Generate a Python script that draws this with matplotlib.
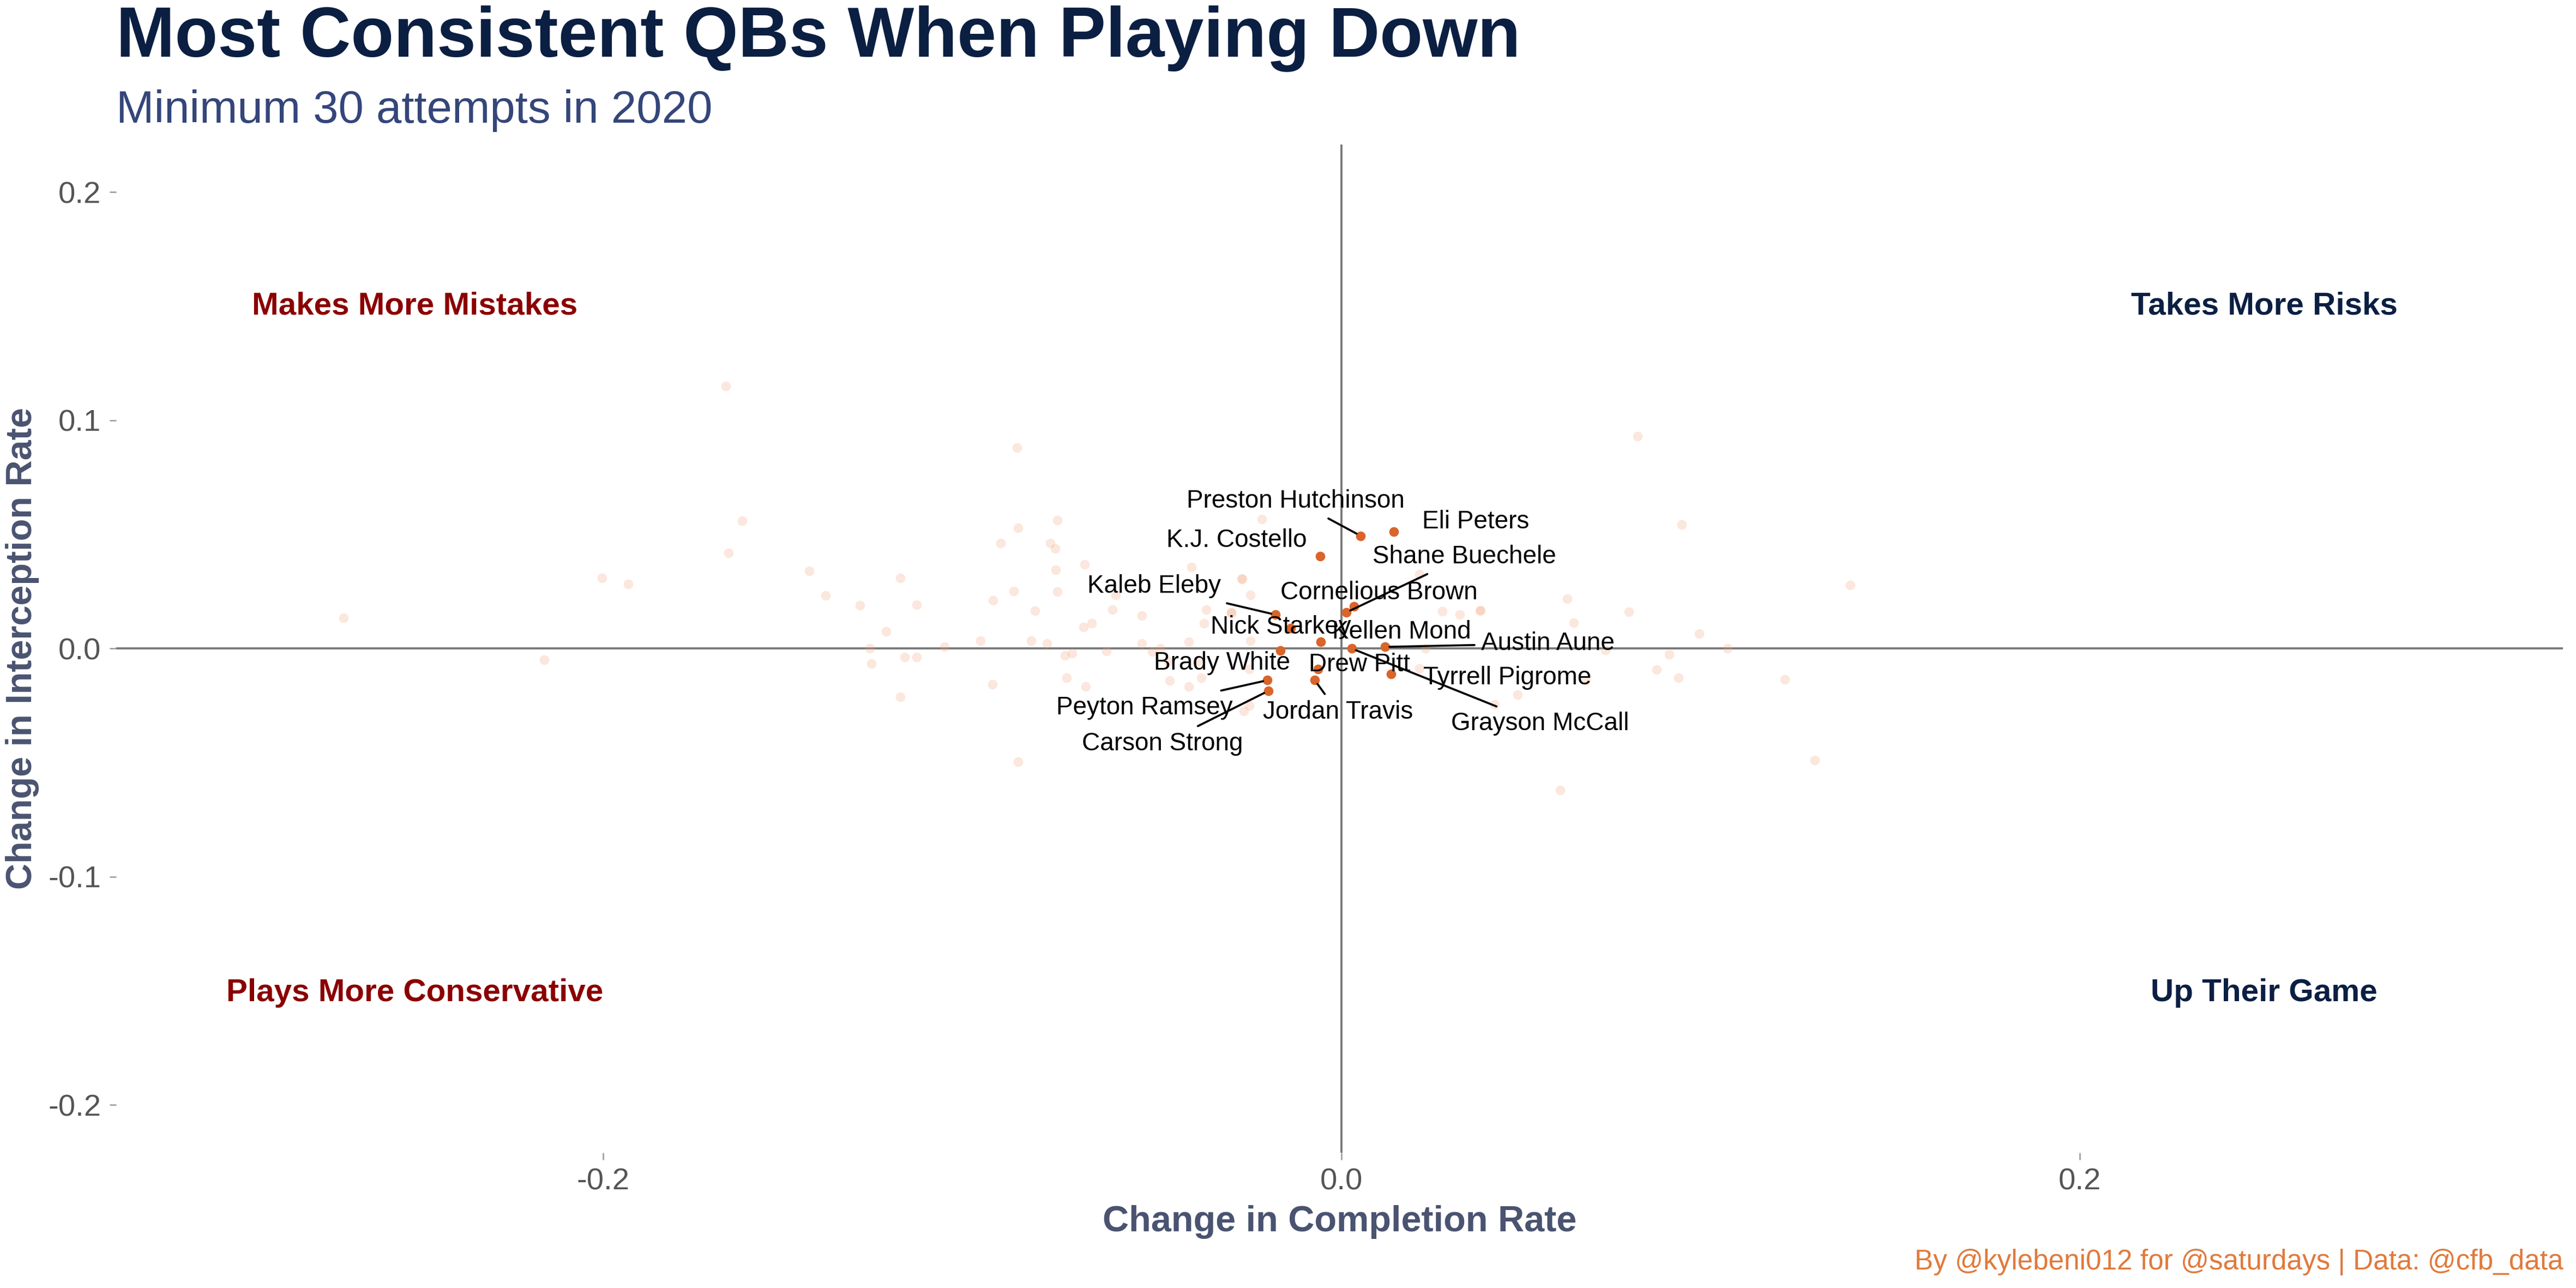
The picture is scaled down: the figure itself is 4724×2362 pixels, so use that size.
import matplotlib.pyplot as plt

plt.rcParams['font.family'] = ['Liberation Sans', 'DejaVu Sans']

# background QBs (change in completion rate, change in interception rate)
bg_x = [-0.1668, -0.0879, -0.1623, -0.0876, -0.0769, -0.0923, -0.0788, -0.0776, -0.166, -0.0696,
        -0.0406, -0.0774, -0.2003, -0.1932, -0.1441, -0.1195, -0.027, -0.1398, -0.0888, -0.0769,
        -0.0612, -0.1304, -0.115, -0.0944, -0.083, -0.062, -0.0366, -0.0298, -0.054, -0.2703,
        -0.0676, -0.0699, -0.0372, -0.1233, -0.0978, -0.0841, -0.0797, -0.054, -0.0413, -0.1075,
        -0.1277, -0.049, -0.0513, -0.0729, -0.0636, -0.0749, -0.216, -0.1183, -0.115, -0.1274,
        -0.047, -0.039, -0.0379, -0.0745, -0.0465, -0.0413, -0.0692, -0.0946, -0.1195, -0.0876,
        -0.025, -0.0264, 0.0802, 0.0922, 0.1378, 0.0612, 0.0376, 0.0779, 0.063, 0.0969,
        0.1046, 0.0888, 0.0854, 0.0913, 0.1202, 0.0662, 0.0478, 0.0415, 0.1282, 0.0593,
        -0.0215, -0.0268, -0.0246, 0.0211, 0.0274, 0.0321, 0.0377, -0.0298, -0.0246, 0.0227,
        0.0715, 0.0212, -0.025]
bg_y = [0.1149, 0.0881, 0.0561, 0.0528, 0.0563, 0.0461, 0.0461, 0.0439, 0.042, 0.0368,
        0.0356, 0.0344, 0.0308, 0.0282, 0.0339, 0.0308, 0.0306, 0.0232, 0.0251, 0.0248,
        0.0234, 0.0189, 0.0191, 0.021, 0.0165, 0.017, 0.017, 0.0158, 0.0143, 0.0134,
        0.011, 0.0093, 0.011, 0.0074, 0.0033, 0.0033, 0.0021, 0.0021, 0.0029, 0.0007,
        0.0, 0.0, -0.0014, -0.002, -0.0011, -0.003, -0.005, -0.0037, -0.0037, -0.0066,
        -0.0057, -0.0057, -0.0128, -0.0128, -0.014, -0.0166, -0.0166, -0.0158, -0.0212, -0.0497,
        -0.025, -0.0275, 0.0931, 0.0544, 0.0277, 0.0217, 0.0165, 0.016, 0.0112, 0.0064,
        0.0, -0.0026, -0.0093, -0.0129, -0.0136, -0.014, -0.0203, -0.0246, -0.049, -0.0621,
        0.0566, 0.0303, 0.0234, 0.0325, 0.0162, 0.0148, 0.0167, 0.0155, 0.0033, 0.0,
        -0.0007, -0.0088, -0.0091]

# highlighted QBs
names = ['Preston Hutchinson', 'Eli Peters', 'K.J. Costello', 'Shane Buechele', 'Cornelious Brown',
         'Kaleb Eleby', 'Nick Starkey', 'Kellen Mond', 'Austin Aune', 'Brady White', 'Drew Pitt',
         'Tyrrell Pigrome', 'Jordan Travis', 'Grayson McCall', 'Peyton Ramsey', 'Carson Strong']
qb_x = [0.0052, 0.0142, -0.0058, 0.0013, 0.0034, -0.0178, -0.0137, -0.0056, 0.0118, -0.0165,
        -0.0063, 0.0134, -0.0072, 0.0028, -0.020, -0.0198]
qb_y = [0.0494, 0.0513, 0.0404, 0.0158, 0.0184, 0.0148, 0.0088, 0.0029, 0.0007, -0.0008,
        -0.0091, -0.0112, -0.0139, 0.0, -0.0139, -0.0186]
lab_x = [-0.0124, 0.0364, -0.0284, 0.0333, 0.0102, -0.0507, -0.0164, 0.0164, 0.056, -0.0324,
         0.0049, 0.0449, -0.0009, 0.0538, -0.0533, -0.0484]
lab_y = [0.0647, 0.0554, 0.0475, 0.0403, 0.0245, 0.0273, 0.0094, 0.0072, 0.0022, -0.0065,
         -0.0072, -0.0129, -0.028, -0.033, -0.0259, -0.0417]
has_line = [True, False, False, True, False, True, False, False, True, False,
            False, False, True, True, True, True]

fig = plt.figure(figsize=(4724 / 300, 2362 / 300), dpi=300)
ax = fig.add_axes([0.045, 0.105, 0.95, 0.783])

ax.axhline(0, color='#777777', lw=0.9, zorder=1)
ax.axvline(0, color='#777777', lw=0.9, zorder=1)

ax.scatter(bg_x, bg_y, s=18, color='#f0a078', alpha=0.25, lw=0, zorder=2)
ax.scatter(qb_x, qb_y, s=18, color='#d9652b', lw=0, zorder=3)

for n, x, y, tx, ty, ln in zip(names, qb_x, qb_y, lab_x, lab_y, has_line):
    ax.annotate(n, (x, y), xytext=(tx, ty), ha='center', va='center', fontsize=11,
                color='black', zorder=4,
                arrowprops=dict(arrowstyle='-', color='black', lw=0.9, shrinkA=1, shrinkB=2) if ln else None)

quad = [('Makes More Mistakes', -0.251, 0.15, '#8b0000'),
        ('Takes More Risks', 0.25, 0.15, '#0b1f42'),
        ('Plays More Conservative', -0.251, -0.151, '#8b0000'),
        ('Up Their Game', 0.25, -0.151, '#0b1f42')]
for t, x, y, c in quad:
    ax.text(x, y, t, ha='center', va='center', fontsize=14, fontweight='bold', color=c)

ax.set_xlim(-0.332, 0.331)
ax.set_ylim(-0.221, 0.221)
ax.set_xticks([-0.2, 0.0, 0.2])
ax.set_xticklabels(['-0.2', '0.0', '0.2'])
ax.set_yticks([-0.2, -0.1, 0.0, 0.1, 0.2])
ax.set_yticklabels(['-0.2', '-0.1', '0.0', '0.1', '0.2'])
ax.tick_params(labelsize=13.5, colors='#555555', length=3, width=0.6, color='#999999')
for s in ax.spines.values():
    s.set_visible(False)

ax.set_xlabel('Change in Completion Rate', fontsize=16, fontweight='bold', color='#4a5370', labelpad=4)
ax.set_ylabel('Change in Interception Rate', fontsize=16, fontweight='bold', color='#4a5370', labelpad=4)

fig.text(0.045, 0.97, 'Most Consistent QBs When Playing Down', fontsize=31, fontweight='bold',
         color='#0b1f42', ha='left', va='center')
fig.text(0.045, 0.914, 'Minimum 30 attempts in 2020', fontsize=20, color='#34467a',
         ha='left', va='center')
fig.text(0.995, 0.02, 'By @kylebeni012 for @saturdays | Data: @cfb_data', fontsize=12.3,
         color='#e07a3c', ha='right', va='center')

fig.savefig('out.png', dpi=300)
